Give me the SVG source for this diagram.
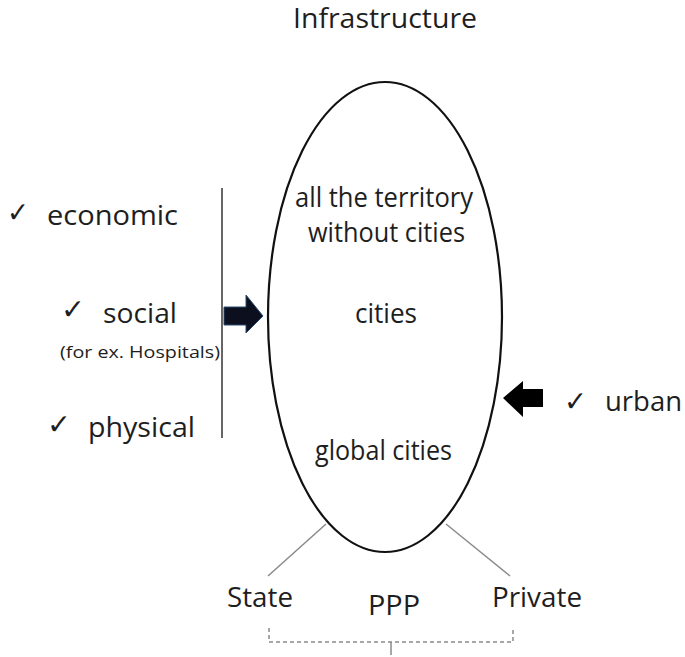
<svg xmlns="http://www.w3.org/2000/svg" width="685" height="657" viewBox="0 0 685 657">
<style>
text{font-family:"Open Sans","Noto Sans","Liberation Sans",sans-serif;fill:#1e1e1e}
.t{font-size:27px}
.s{font-size:16px}
.ck{font-family:"DejaVu Sans",sans-serif;font-size:28px}
.g{stroke:#8a8a8a;stroke-width:1.5;fill:none}
.d{stroke:#8a8a8a;stroke-width:1.5;fill:none;stroke-dasharray:4 3}
</style>
<rect width="685" height="657" fill="#fff"/>
<g id="title"><text class="t" x="293" y="28" textLength="184" lengthAdjust="spacingAndGlyphs">Infrastructure</text></g>
<g id="ellipse">
<ellipse cx="385" cy="317" rx="117" ry="235" fill="none" stroke="#111" stroke-width="2.2"/>
<text class="t" x="295" y="207" textLength="178" lengthAdjust="spacingAndGlyphs">all the territory</text>
<text class="t" x="308" y="242" textLength="157" lengthAdjust="spacingAndGlyphs">without cities</text>
<text class="t" x="355" y="323" textLength="62" lengthAdjust="spacingAndGlyphs">cities</text>
<text class="t" x="315" y="460" textLength="137" lengthAdjust="spacingAndGlyphs">global cities</text>
</g>
<g id="economic"><text class="ck" x="7" y="222" textLength="22" lengthAdjust="spacingAndGlyphs">✓</text><text class="t" x="47" y="225" textLength="131" lengthAdjust="spacingAndGlyphs">economic</text></g>
<g id="social"><text class="ck" x="61" y="319" textLength="24" lengthAdjust="spacingAndGlyphs">✓</text><text class="t" x="103" y="323" textLength="74" lengthAdjust="spacingAndGlyphs">social</text>
<text class="s" x="60" y="358" textLength="160" lengthAdjust="spacingAndGlyphs">(for ex. Hospitals)</text></g>
<g id="physical"><text class="ck" x="47" y="434" textLength="24" lengthAdjust="spacingAndGlyphs">✓</text><text class="t" x="88" y="437" textLength="107" lengthAdjust="spacingAndGlyphs">physical</text></g>
<g id="urban"><text class="ck" x="564" y="411" textLength="23" lengthAdjust="spacingAndGlyphs">✓</text><text class="t" x="605" y="411" textLength="77" lengthAdjust="spacingAndGlyphs">urban</text></g>
<g id="state"><text class="t" x="227" y="607" textLength="66" lengthAdjust="spacingAndGlyphs">State</text></g>
<g id="ppp"><text class="t" x="368" y="615" textLength="52" lengthAdjust="spacingAndGlyphs">PPP</text></g>
<g id="private"><text class="t" x="492" y="607" textLength="90" lengthAdjust="spacingAndGlyphs">Private</text></g>
<g id="connectors">
<line x1="222" y1="188" x2="222" y2="438" stroke="#333" stroke-width="1.5"/>
<polygon points="224,307 246,307 246,295 263,316 246,333 246,325 224,325" fill="#0b0f1e" stroke="#2a4a70" stroke-width="1"/>
<polygon points="543,389 523,389 523,381 503,398 523,417 523,407 543,407" fill="#000"/>
<line class="g" x1="326" y1="524" x2="268" y2="576"/>
<line class="g" x1="446" y1="524" x2="510" y2="576"/>
<path class="d" d="M269,628 V642 H513 V628"/>
<line class="g" x1="391" y1="642" x2="391" y2="655"/>
</g>
</svg>
